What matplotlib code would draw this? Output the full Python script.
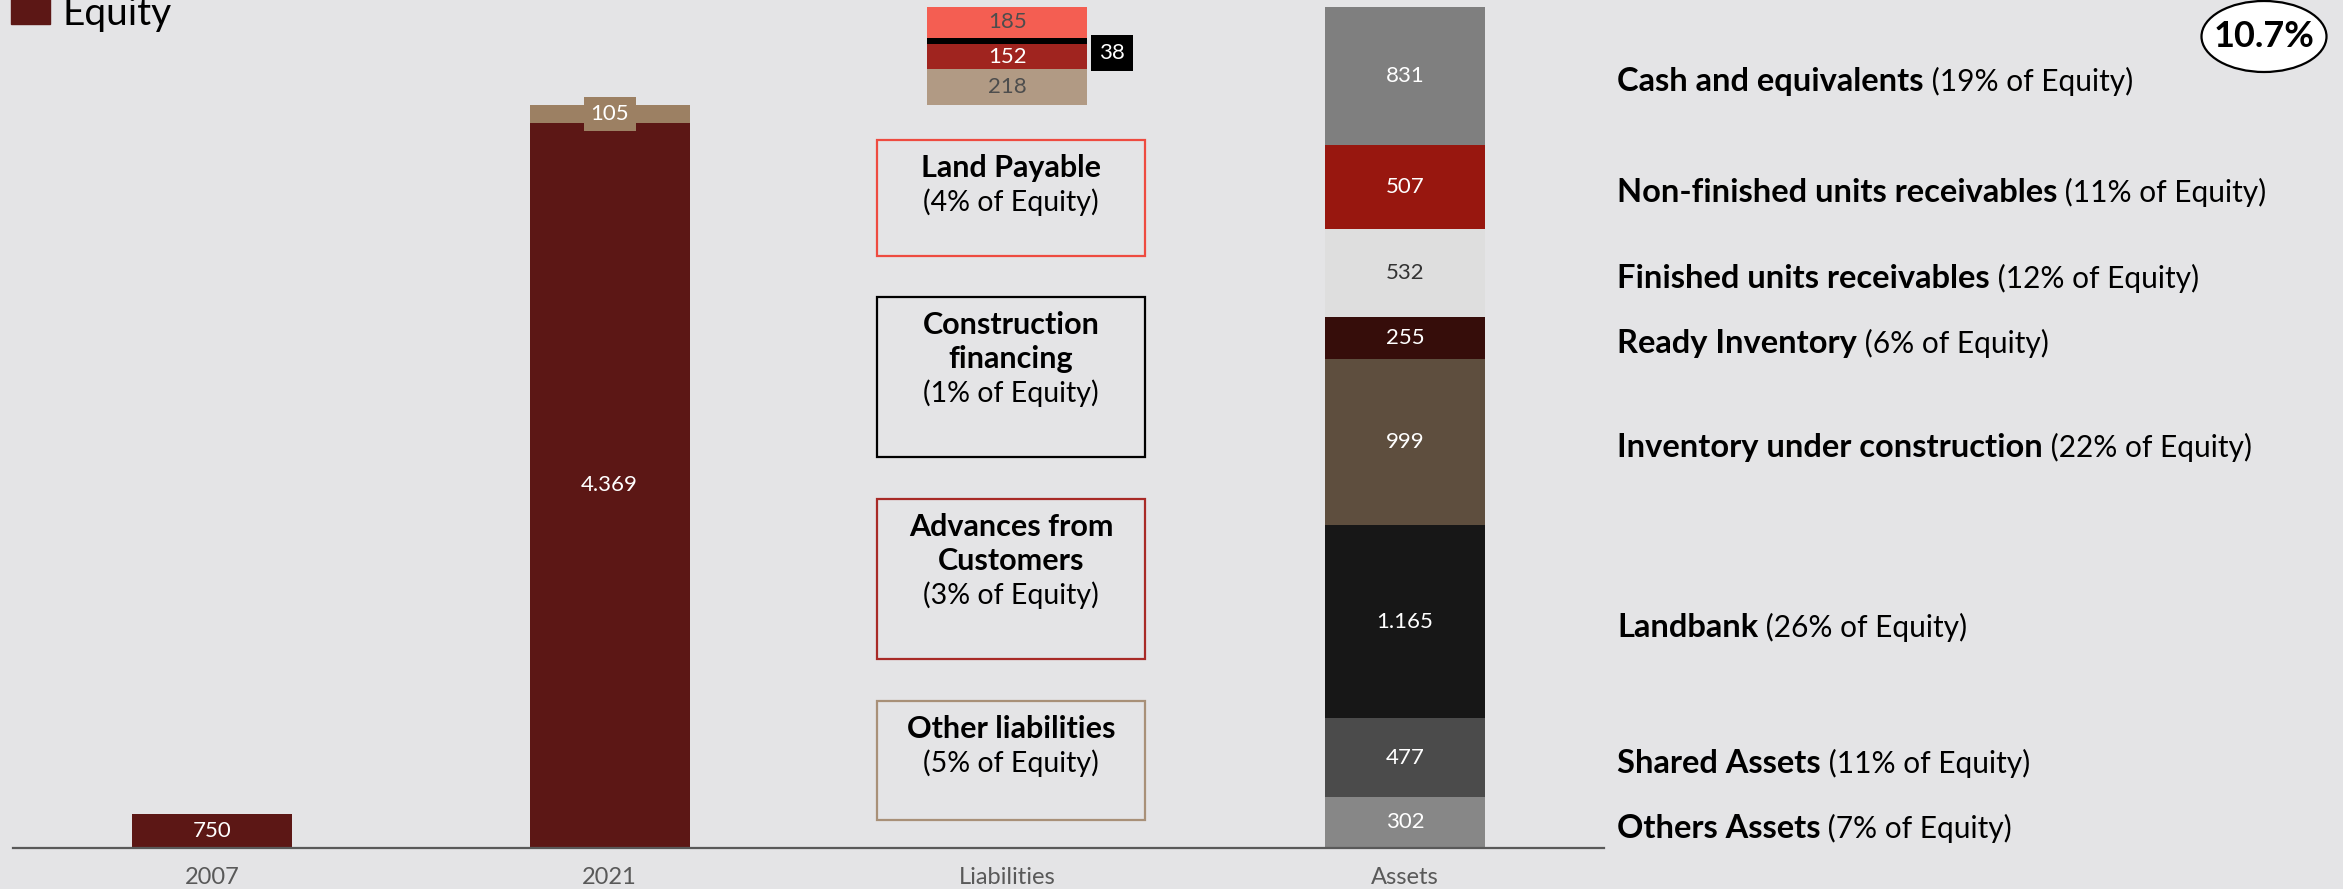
import matplotlib
matplotlib.use('Agg')
import matplotlib.pyplot as plt
import matplotlib.transforms as mtransforms
from matplotlib.patches import Rectangle, Ellipse

plt.rcParams['font.family'] = ['Lato', 'DejaVu Sans']

# ---- data ----
categories = ['2007', '2021', 'Liabilities', 'Assets']

equity_values = [750, 4369]
equity_drawn = [199, 4369]      # 2007 bar is drawn short (not to scale) on the slide
equity_extra_2021 = 105

# liabilities, bottom to top
liab_names = ['Other liabilities', 'Advances from\nCustomers', 'Construction\nfinancing', 'Land Payable']
liab_values = [218, 152, 38, 185]
liab_pct = [5, 3, 1, 4]

# assets, bottom to top
asset_names = ['Others Assets', 'Shared Assets', 'Landbank', 'Inventory under construction',
               'Ready Inventory', 'Finished units receivables', 'Non-finished units receivables',
               'Cash and equivalents']
asset_values = [302, 477, 1165, 999, 255, 532, 507, 831]
asset_pct = [7, 11, 26, 22, 6, 12, 11, 19]

badge_label = '10.7%'

# ---- styles ----
bg = '#E4E4E6'
equity_color = '#5C1715'
extra_color = '#9C8063'
liab_colors = ['#B19A84', '#A0241F', '#000000', '#F45E52']
liab_text = ['#4D4D4D', 'white', 'white', '#4D4D4D']
liab_edge = ['#A89078', '#A82A27', '#000000', '#EE4B40']
asset_colors = ['#878787', '#4B4B4B', '#171717', '#5E4E3E', '#360D0A', '#DEDEDE', '#98170F', '#7F7F7F']
asset_text = ['white', 'white', 'white', 'white', 'white', '#333333', 'white', 'white']


def fmt(v):
    return f"{v:,}".replace(",", ".")


W, H = 2343, 889
fig = plt.figure(figsize=(W / 100, H / 100), dpi=100, facecolor=bg)
ax = fig.add_axes([13 / W, 41.5 / H, 1591 / W, 847.5 / H])
ax.set_facecolor(bg)
ax.set_xlim(-0.5, 3.5)
ax.set_ylim(0, 5109)
bw = 0.402
val_fs = 16

# equity bars
for i in range(2):
    b = ax.bar(i, equity_drawn[i], width=bw, color=equity_color)
    ax.bar_label(b, labels=[fmt(equity_values[i])], label_type='center', color='white', fontsize=val_fs)
b = ax.bar(1, equity_extra_2021, bottom=equity_drawn[1], width=bw, color=extra_color)
ax.bar_label(b, labels=[fmt(equity_extra_2021)], label_type='center', color='white', fontsize=val_fs,
             bbox=dict(boxstyle='square,pad=0.3', fc=extra_color, ec='none'))

# liabilities stacked on top of 2021 equity
bottom = equity_drawn[1] + equity_extra_2021
for v, c, tc in zip(liab_values, liab_colors, liab_text):
    b = ax.bar(2, v, bottom=bottom, width=bw, color=c)
    if v < 100:
        ax.annotate(fmt(v), xy=(2 + bw / 2, bottom + v / 2), xytext=(8.6, -8.6), textcoords='offset points',
                    ha='left', va='center', color='white', fontsize=val_fs,
                    bbox=dict(boxstyle='square,pad=0.35', fc='black', ec='none'))
    else:
        ax.bar_label(b, labels=[fmt(v)], label_type='center', color=tc, fontsize=val_fs)
    bottom += v

# assets stack
bottom = 0
asset_mid = []
for v, c, tc in zip(asset_values, asset_colors, asset_text):
    b = ax.bar(3, v, bottom=bottom, width=bw, color=c)
    ax.bar_label(b, labels=[fmt(v)], label_type='center', color=tc, fontsize=val_fs)
    asset_mid.append(bottom + v / 2)
    bottom += v

# axis styling
for s in ['top', 'right', 'left']:
    ax.spines[s].set_visible(False)
ax.spines['bottom'].set_color('#595959')
ax.spines['bottom'].set_linewidth(1.6)
ax.set_yticks([])
ax.set_xticks(range(len(categories)))
ax.set_xticklabels(categories, fontsize=17, color='#595959')
ax.tick_params(axis='x', length=0, pad=14)

# liability description boxes
box_tr = mtransforms.blended_transform_factory(ax.transData, ax.transAxes)
box_y = [(0.0324, 0.1729), (0.2229, 0.4112), (0.4602, 0.6496), (0.6985, 0.8348)]
bx0, bx1 = 1.672, 2.346
for name, pct, ec, (y0, y1) in zip(liab_names, liab_pct, liab_edge, box_y):
    ax.add_patch(Rectangle((bx0, y0), bx1 - bx0, y1 - y0, transform=box_tr, fill=False,
                           ec=ec, lw=1.6, clip_on=False))
    lines = name.split('\n')
    allines = lines + [f'({pct}% of Equity)']
    for k, ln in enumerate(allines):
        bold = k < len(lines)
        ax.annotate(ln, xy=((bx0 + bx1) / 2, y1), xycoords=box_tr,
                    xytext=(0, -(28 + 34 * k) * 0.72), textcoords='offset points',
                    ha='center', va='center', fontsize=22 if bold else 20.5, color='black',
                    fontweight='bold' if bold else 'normal')

# asset descriptions on the right
lab_tr = mtransforms.blended_transform_factory(fig.transFigure, ax.transData)
for name, pct, y in zip(asset_names, asset_pct, asset_mid):
    t1 = ax.annotate(name, xy=(1617 / W, y), xycoords=lab_tr, xytext=(0, -4), textcoords='offset points',
                     ha='left', va='center', fontsize=23.5, fontweight='bold', color='black')
    ax.annotate(f' ({pct}% of Equity)', xy=(1, 0), xycoords=t1, ha='left', va='bottom',
                fontsize=21.5, color='black')

# legend square
fig.patches.append(Rectangle((11 / W, 1 - 24 / H), 39 / W, 40 / H, transform=fig.transFigure,
                             color=equity_color))
fig.text(62 / W, 1 - 25 / H, 'Equity', ha='left', va='baseline', fontsize=28, color='black')

# badge
fig.patches.append(Ellipse((2264 / W, 1 - 36.5 / H), 125 / W, 71 / H, transform=fig.transFigure,
                           fc='white', ec='black', lw=1.6))
fig.text(2264 / W, 1 - 36.5 / H, badge_label, ha='center', va='center', fontsize=26,
         fontweight='bold', color='black')

fig.savefig('out.png', dpi=100, facecolor=bg)
